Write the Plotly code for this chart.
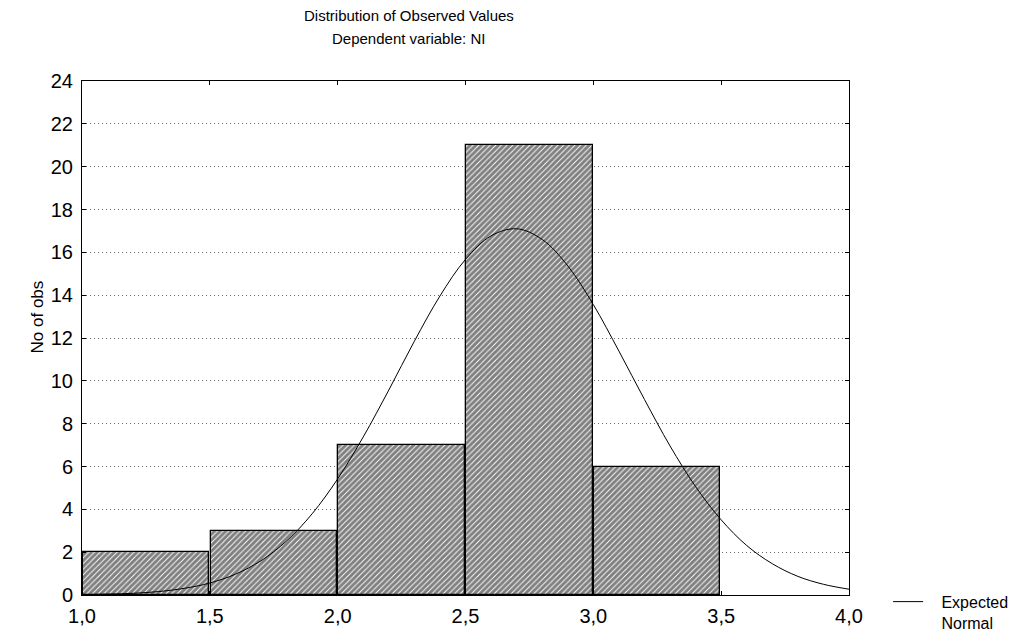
import plotly.graph_objects as go

# Histogram bins (centers) and counts
bin_centers = [1.25, 1.75, 2.25, 2.75, 3.25, 3.75]
counts = [2, 3, 7, 21, 6, 0]

# Expected normal curve
curve_x = [1.0, 1.1, 1.2, 1.3, 1.4, 1.5, 1.6, 1.7, 1.8, 1.9, 2.0, 2.1, 2.2, 2.3, 2.4, 2.5,
           2.6, 2.7, 2.8, 2.9, 3.0, 3.1, 3.2, 3.3, 3.4, 3.5, 3.6, 3.7, 3.8, 3.9, 4.0]
curve_y = [0.02, 0.04, 0.08, 0.16, 0.31, 0.56, 0.97, 1.60, 2.52, 3.79, 5.42, 7.38, 9.57, 11.85,
           13.96, 15.67, 16.77, 17.10, 16.60, 15.37, 13.56, 11.39, 9.13, 6.96, 5.06, 3.51,
           2.31, 1.46, 0.87, 0.50, 0.27]

x_tickvals = [1.0, 1.5, 2.0, 2.5, 3.0, 3.5, 4.0]
x_ticktext = ["1,0", "1,5", "2,0", "2,5", "3,0", "3,5", "4,0"]
y_tickvals = [0, 2, 4, 6, 8, 10, 12, 14, 16, 18, 20, 22, 24]

bar_line_widths = [1.3 if c > 0 else 0 for c in counts]

fig = go.Figure()
fig.add_trace(go.Bar(
    x=bin_centers, y=counts, width=0.494,
    marker=dict(color="white", line=dict(color="black", width=bar_line_widths),
                pattern=dict(shape="/", fgcolor="black", bgcolor="white",
                             size=4, solidity=0.78)),
    showlegend=False, hoverinfo="skip",
))
fig.add_trace(go.Scatter(
    x=curve_x, y=curve_y, mode="lines", line=dict(color="black", width=1, shape="spline"),
    name="&nbsp;&nbsp;&nbsp;Expected<br>&nbsp;&nbsp;&nbsp;Normal",
))

font = "Liberation Sans, Arial, sans-serif"
fig.update_layout(
    width=1034, height=633,
    margin=dict(l=74, r=193, t=73, b=46, autoexpand=False),
    paper_bgcolor="white", plot_bgcolor="white",
    font=dict(family=font, color="black", size=20),
    bargap=0,
    legend=dict(x=1.051, y=0.02, xanchor="left", yanchor="top",
                font=dict(size=16), bgcolor="rgba(0,0,0,0)", valign="top",
                itemwidth=30, tracegroupgap=0),
    annotations=[
        dict(text="Distribution of Observed Values", xref="paper", yref="paper",
             x=0.426, y=1.127, xanchor="center", yanchor="middle",
             showarrow=False, font=dict(size=15)),
        dict(text="Dependent variable: NI", xref="paper", yref="paper",
             x=0.426, y=1.083, xanchor="center", yanchor="middle",
             showarrow=False, font=dict(size=15)),
        dict(text="No of obs", xref="paper", yref="paper", textangle=-90,
             x=-0.058, y=0.541, xanchor="center", yanchor="middle",
             showarrow=False, font=dict(size=17)),
    ],
)
fig.update_xaxes(
    range=[1, 4], tickvals=x_tickvals, ticktext=x_ticktext,
    showline=True, linecolor="black", linewidth=1, mirror="ticks",
    ticks="inside", ticklen=4, tickcolor="black",
    tickfont=dict(size=20), ticklabelstandoff=3,
    showgrid=False, zeroline=False,
)
fig.update_yaxes(
    range=[0, 24], tickvals=y_tickvals,
    showline=True, linecolor="black", linewidth=1, mirror="ticks",
    ticks="inside", ticklen=4, tickcolor="black",
    tickfont=dict(size=20), ticklabelstandoff=4,
    showgrid=True, gridcolor="#666666", griddash="1px,3px", gridwidth=1,
    zeroline=False,
)

fig.write_html("out.html")
